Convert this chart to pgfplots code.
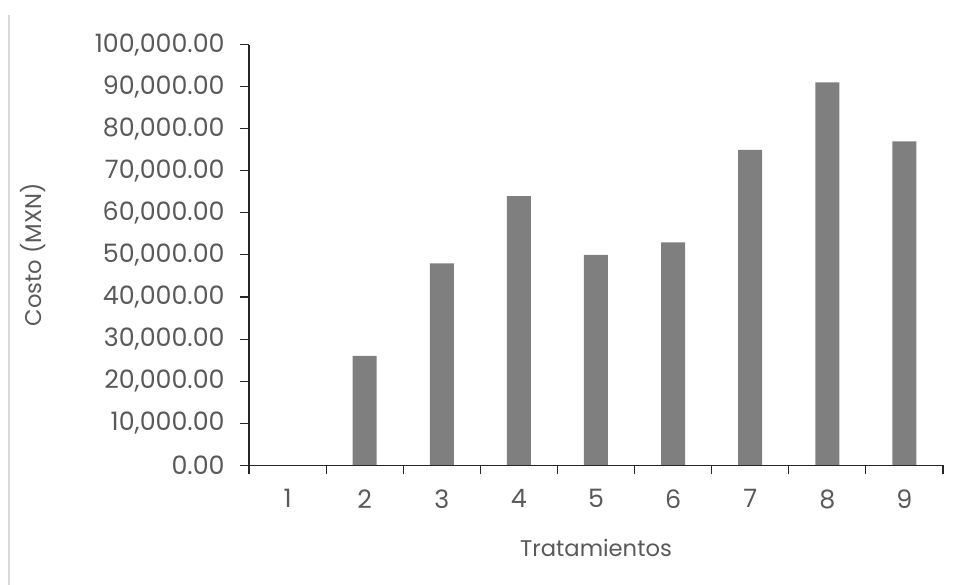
\documentclass[border=0pt]{standalone}
\usepackage{fontspec}
\setmainfont{Poppins}
\usepackage{pgfplots}
\pgfplotsset{compat=1.18}
\definecolor{txt}{HTML}{595959}
\definecolor{barc}{HTML}{7F7F7F}
\definecolor{frame}{HTML}{D9D9D9}

\pgfplotstableread{
x cost
1 0
2 26000
3 48000
4 64000
5 50000
6 53000
7 75000
8 91000
9 77000
}\costs

\begin{document}
\begin{tikzpicture}
\path[use as bounding box] (0,0) rectangle (720pt,438.75pt);
\draw[frame, line width=0.8pt] (6.75pt,0) -- (6.75pt,427.5pt);
\begin{axis}[
    at={(186.75pt,89.8pt)}, anchor=south west,
    scale only axis,
    width=520.5pt, height=315.5pt,
    ybar, bar width=18pt,
    xmin=0.5, xmax=9.5,
    ymin=0, ymax=100000,
    axis on top,
    axis x line*=bottom, axis y line*=left,
    axis line style={draw=black!85, line width=0.8pt},
    xtick={1,...,9},
    major x tick style={draw=none},
    minor xtick={0.5,1.5,...,9.5},
    minor x tick style={draw=black!85, line width=0.8pt},
    minor tick length=6.75pt,
    ytick={0,10000,...,100000},
    y tick style={draw=black!85, line width=0.8pt},
    major tick length=6.75pt,
    tick align=outside,
    scaled y ticks=false,
    yticklabel style={/pgf/number format/.cd, fixed, fixed zerofill, precision=2, 1000 sep={,}, assume math mode=true},
    xticklabel style={/pgf/number format/assume math mode=true},
    tick label style={font=\fontsize{19}{19}\selectfont, text=txt},
    xticklabel shift=8pt,
    yticklabel shift=8pt,
    label style={font=\fontsize{17}{17}\selectfont, text=txt},
    xlabel={Tratamientos},
    ylabel={Costo (MXN)},
    xlabel style={at={(axis description cs:0.5,-0.197)}, anchor=center},
    ylabel style={at={(axis description cs:-0.311,0.5)}, anchor=center},
    clip=false,
]
\addplot[fill=barc, draw=none] table[x=x, y=cost] {\costs};
\end{axis}
\end{tikzpicture}
\end{document}
